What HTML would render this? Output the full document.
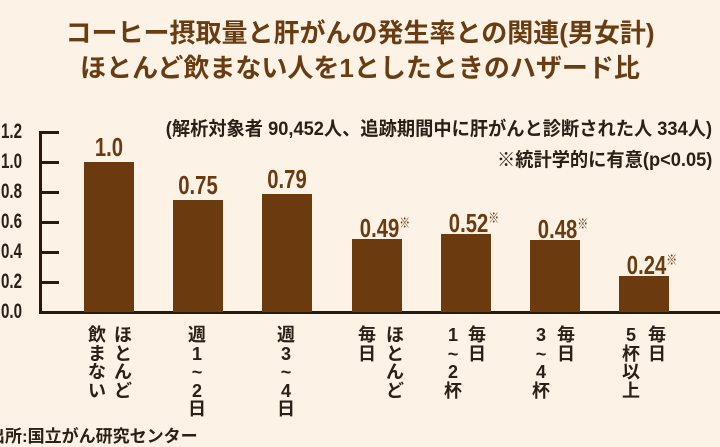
<!DOCTYPE html>
<html><head><meta charset="utf-8"><style>
html,body{margin:0;padding:0}
body{width:720px;height:441px;background:#fcf3e6;position:relative;overflow:hidden;font-family:"Liberation Sans","Noto Sans CJK JP",sans-serif}
.t{position:absolute;left:0;width:720px;text-align:center;color:#6a3c12;font-weight:bold;font-size:26px;line-height:30px;white-space:nowrap}
.s{position:absolute;right:8px;color:#2a2018;font-size:19px;font-weight:bold;white-space:nowrap;transform:scaleX(.96);transform-origin:right}
.yl{position:absolute;left:1px;width:30px;font-size:21px;font-weight:bold;color:#2a2018;transform:scaleX(.72);transform-origin:left;line-height:20px}
.tk{position:absolute;left:40px;width:19px;height:3px;background:#2a1a0c}
.bar{position:absolute;width:50px;background:#6b3a0f;bottom:129px}
.v{position:absolute;width:90px;text-align:center;font-size:26px;font-weight:bold;color:#6b3a0f;transform:scaleX(.78);line-height:26px}
.v sup{font-size:14px;vertical-align:9px;font-weight:normal}
.c{position:absolute;top:326px;width:20px;margin-left:-10px;text-align:center;font-size:18px;font-weight:bold;color:#2a2018;line-height:18.5px}
</style></head><body>
<div class="t" style="top:18px">コーヒー摂取量と肝がんの発生率との関連(男女計)</div>
<div class="t" style="top:53px">ほとんど飲まない人を1としたときのハザード比</div>
<div class="s" style="top:114px">(解析対象者 90,452人、追跡期間中に肝がんと診断された人 334人)</div>
<div class="s" style="top:145px">※統計学的に有意(p&lt;0.05)</div>
<div class="yl" style="top:122px">1.2</div>
<div class="yl" style="top:152px">1.0</div>
<div class="yl" style="top:182px">0.8</div>
<div class="yl" style="top:212px">0.6</div>
<div class="yl" style="top:242px">0.4</div>
<div class="yl" style="top:272px">0.2</div>
<div class="yl" style="top:302px">0.0</div>
<div style="position:absolute;left:39px;top:131px;width:3px;height:182px;background:#2a1a0c"></div>
<div class="tk" style="top:131px"></div><div class="tk" style="top:161px"></div><div class="tk" style="top:191px"></div><div class="tk" style="top:221px"></div><div class="tk" style="top:251px"></div><div class="tk" style="top:281px"></div>
<div style="position:absolute;left:39px;top:311px;width:681px;height:3px;background:#2a1a0c"></div>
<div class="bar" style="left:84px;height:150px"></div>
<div class="bar" style="left:173px;height:112px"></div>
<div class="bar" style="left:262px;height:118px"></div>
<div class="bar" style="left:352px;height:73px"></div>
<div class="bar" style="left:441px;height:78px"></div>
<div class="bar" style="left:530px;height:72px"></div>
<div class="bar" style="left:619px;height:36px"></div>
<div class="v" style="left:64px;top:134px">1.0</div>
<div class="v" style="left:153px;top:172px">0.75</div>
<div class="v" style="left:242px;top:166px">0.79</div>
<div class="v" style="left:340px;top:210px">0.49<sup>※</sup></div>
<div class="v" style="left:429px;top:205px">0.52<sup>※</sup></div>
<div class="v" style="left:518px;top:211px">0.48<sup>※</sup></div>
<div class="v" style="left:607px;top:247px">0.24<sup>※</sup></div>
<div class="c" style="left:123px">ほ<br>と<br>ん<br>ど</div>
<div class="c" style="left:97px">飲<br>ま<br>な<br>い</div>
<div class="c" style="left:197px">週<br>1<br>~<br>2<br>日</div>
<div class="c" style="left:286px">週<br>3<br>~<br>4<br>日</div>
<div class="c" style="left:367px">毎<br>日</div>
<div class="c" style="left:395px">ほ<br>と<br>ん<br>ど</div>
<div class="c" style="left:453px">1<br>~<br>2<br>杯</div>
<div class="c" style="left:477px">毎<br>日</div>
<div class="c" style="left:541px">3<br>~<br>4<br>杯</div>
<div class="c" style="left:566px">毎<br>日</div>
<div class="c" style="left:631px">5<br>杯<br>以<br>上</div>
<div class="c" style="left:657px">毎<br>日</div>
<div style="position:absolute;left:-12px;top:422px;font-size:17px;font-weight:bold;color:#2a2018;white-space:nowrap">出所:国立がん研究センター</div>
</body></html>
